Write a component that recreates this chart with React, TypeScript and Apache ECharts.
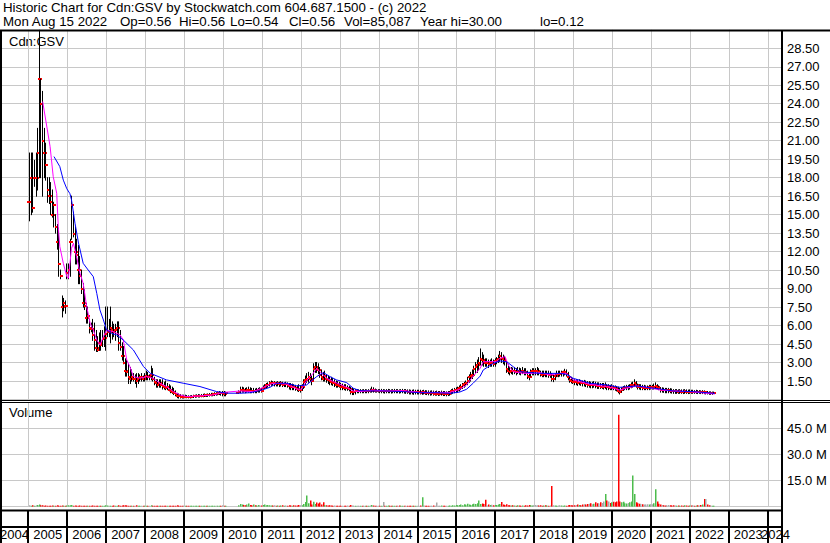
import React, { useEffect, useRef } from 'react';
import * as echarts from 'echarts';

const FONT = '"Liberation Sans", Arial, Helvetica, sans-serif';

const HEADER_1 = 'Historic Chart for Cdn:GSV by Stockwatch.com 604.687.1500 - (c) 2022';
const HEADER_2 = ['Mon Aug 15 2022', 'Op=0.56', 'Hi=0.56', 'Lo=0.54', 'Cl=0.56', 'Vol=85,087', 'Year hi=30.00', 'lo=0.12'];
const HEADER_2_X = [3, 120, 179, 230, 289, 344, 420, 540];
const SYMBOL = 'Cdn:GSV';
const VOLUME_TITLE = 'Volume';

const YEARS = [2004, 2005, 2006, 2007, 2008, 2009, 2010, 2011, 2012, 2013, 2014, 2015, 2016, 2017, 2018, 2019, 2020, 2021, 2022, 2023, 2024];
const X_MIN = 2004.3243;
const X_MAX = 2024.365;
const PRICE_MAX = 30;
const PRICE_STEP = 1.5;
const VOL_MAX = 60;
const VOL_STEP = 15;

// semi-monthly periods starting Jan 2005
const FIRST_YEAR = 2005;
const PER_YEAR = 24;
const _ = null;

const HIGH = [
  20,20,20,19.4,20,22,30,26,25,22,20.8,18,18,17.6,17,16,15,14.2,13.9,10.5,8.4,8.2,8.0,11,
  11,13,16.5,15.2,14,13,12.5,11.6,10.5,9.4,8.9,7.8,7.5,6.5,6.2,6.5,6.2,5.6,5.1,5.4,5.6,5.6,5.9,7.5,
  7.5,6.5,7.5,6.3,6.1,6.1,6.3,6.3,5.6,4.6,4.3,3.3,3.2,2.9,2.6,2.4,2.1,2.0,2.1,2.1,2.0,2.1,1.9,2.1,
  2.3,2.2,2.0,2.7,2.5,1.8,1.6,1.6,1.6,1.6,1.6,1.4,1.5,1.3,1.2,1.1,1.0,0.9,0.7,0.5,0.45,0.4,0.35,0.35,
  0.35,0.32,0.3,0.3,0.32,0.35,0.35,0.38,0.4,0.38,0.4,0.42,0.45,0.42,0.45,0.48,0.5,0.5,0.55,0.55,0.6,0.65,0.6,0.65,
  0.65,0.6,_,_,_,_,_,_,_,0.7,1.0,1.0,0.95,0.9,0.95,1.0,0.95,0.9,0.9,0.85,0.9,0.9,0.95,0.9,
  1.1,1.2,1.3,1.35,1.45,1.5,1.45,1.45,1.4,1.45,1.4,1.45,1.4,1.35,1.4,1.35,1.3,1.3,1.25,1.2,1.15,1.1,1.2,1.1,
  1.2,1.6,1.9,2.1,2.2,2.1,1.9,2.9,3.0,3.0,2.9,2.6,2.4,2.2,2.3,2.0,1.9,1.8,1.8,1.7,1.6,1.5,1.45,1.4,
  1.3,1.25,1.2,1.2,1.1,1.05,1.0,0.9,0.85,0.8,0.8,0.78,0.8,0.78,0.8,0.8,0.78,0.8,0.85,1.0,0.95,0.85,0.8,0.8,
  0.8,0.82,0.8,0.78,0.8,0.82,0.8,0.78,0.8,0.82,0.8,0.8,0.78,0.8,0.82,0.8,0.8,0.78,0.78,0.75,0.75,0.78,0.75,0.75,
  0.75,0.75,0.72,0.75,0.72,0.7,0.7,0.68,0.7,0.68,0.65,0.68,0.65,0.65,0.68,0.65,0.65,0.62,0.65,0.65,0.8,0.85,0.9,0.95,
  1.0,1.1,1.2,1.3,1.4,1.5,1.8,2.0,2.2,2.4,2.7,3.0,3.2,3.4,4.1,3.8,3.6,3.3,3.3,3.2,3.2,3.3,3.2,3.3,
  3.4,3.6,3.9,3.8,3.6,3.5,3.0,2.8,2.6,2.6,2.55,2.6,2.5,2.6,2.55,2.5,2.6,2.5,2.5,2.3,2.2,2.4,2.5,2.5,
  2.5,2.6,2.5,2.3,2.3,2.3,2.3,2.3,2.3,2.25,2.1,2.0,2.1,2.3,2.3,2.3,2.3,2.3,2.45,2.4,2.2,1.9,1.8,1.7,
  1.6,1.6,1.55,1.6,1.55,1.5,1.55,1.5,1.45,1.45,1.4,1.4,1.45,1.4,1.35,1.35,1.3,1.3,1.3,1.35,1.2,1.2,1.15,1.2,
  1.1,1.1,1.05,1.0,0.9,0.95,1.05,1.1,1.15,1.15,1.2,1.35,1.4,1.6,1.45,1.25,1.2,1.2,1.15,1.15,1.1,1.1,1.15,1.15,
  1.15,1.25,1.35,1.2,1.1,0.95,0.95,0.92,0.9,0.9,0.9,0.88,0.85,0.8,0.8,0.8,0.78,0.8,0.78,0.78,0.8,0.78,0.76,0.78,
  0.75,0.75,0.72,0.75,0.72,0.72,0.7,0.72,0.7,0.65,0.65,0.62,0.62,0.6,0.6,
];

const LOW = [
  14.5,15,15.2,17.3,16.5,17,18,18,16.5,18,17.8,16,15.9,15,14.8,14,13.5,12.2,10,9.8,6.7,7.2,7.0,9.8,
  9.8,10,13,13.2,11,11,9.4,9.4,8.6,7.5,7.3,6.2,6.2,5.4,5.5,4.8,4.0,3.9,3.9,4.0,4.0,4.3,4.3,4.0,
  5.1,5.1,4.6,4.9,5.1,4.8,5.1,4.0,4.0,3.2,2.9,1.9,1.9,1.3,1.3,1.5,1.5,1.3,1.0,1.3,1.5,1.5,1.5,1.5,
  1.6,1.6,1.6,1.6,1.5,1.2,1.0,1.0,1.0,1.0,0.85,0.85,0.8,0.8,0.7,0.55,0.5,0.4,0.3,0.15,0.12,0.12,0.12,0.12,
  0.15,0.14,0.13,0.12,0.15,0.16,0.18,0.2,0.2,0.2,0.22,0.22,0.25,0.25,0.25,0.28,0.3,0.3,0.32,0.35,0.38,0.4,0.35,0.3,
  0.3,0.3,_,_,_,_,_,_,_,0.5,0.55,0.6,0.6,0.55,0.6,0.6,0.55,0.55,0.55,0.55,0.55,0.6,0.6,0.6,
  0.85,0.9,0.95,1.0,1.1,1.15,1.15,1.1,1.1,1.1,1.05,1.1,1.05,1.05,1.05,1.0,0.85,0.8,0.8,0.8,0.75,0.7,0.65,0.6,
  0.75,0.9,1.2,1.4,1.4,1.5,1.2,1.6,2.2,2.2,2.1,1.8,1.6,1.5,1.5,1.4,1.3,1.2,1.2,1.15,1.05,1.0,1.0,1.0,
  0.8,0.8,0.8,0.75,0.75,0.7,0.45,0.4,0.4,0.45,0.55,0.55,0.55,0.55,0.55,0.55,0.55,0.55,0.6,0.6,0.6,0.6,0.6,0.6,
  0.55,0.55,0.55,0.52,0.55,0.55,0.55,0.52,0.55,0.55,0.55,0.55,0.52,0.55,0.55,0.52,0.5,0.5,0.45,0.45,0.45,0.42,0.45,0.45,
  0.45,0.45,0.42,0.45,0.42,0.4,0.38,0.35,0.38,0.35,0.35,0.35,0.32,0.35,0.35,0.32,0.32,0.3,0.32,0.35,0.45,0.5,0.55,0.6,
  0.6,0.7,0.8,0.9,1.0,1.1,1.2,1.4,1.5,1.7,1.9,2.1,2.2,2.4,2.8,2.8,2.7,2.7,2.7,2.6,2.7,2.7,2.7,2.7,
  2.9,3.0,3.1,3.0,2.9,2.8,2.2,2.1,2.0,2.1,2.05,2.1,2.0,2.1,2.05,2.0,2.1,2.0,2.0,1.7,1.6,1.9,2.0,2.0,
  2.0,2.0,2.0,1.9,1.85,1.85,1.85,1.85,1.8,1.8,1.5,1.45,1.6,1.85,1.85,1.9,1.9,1.9,2.0,1.9,1.6,1.4,1.35,1.3,
  1.2,1.2,1.15,1.2,1.15,1.1,1.1,1.05,1.0,1.0,0.95,0.95,1.0,0.95,0.9,0.9,0.9,0.9,0.85,0.9,0.8,0.8,0.8,0.8,
  0.8,0.75,0.7,0.55,0.45,0.6,0.75,0.8,0.8,0.8,0.85,0.95,1.0,1.05,1.0,0.85,0.85,0.8,0.8,0.8,0.8,0.8,0.8,0.85,
  0.85,0.85,0.9,0.85,0.8,0.6,0.6,0.58,0.55,0.55,0.55,0.55,0.52,0.5,0.5,0.5,0.5,0.5,0.5,0.48,0.5,0.5,0.48,0.5,
  0.5,0.5,0.5,0.5,0.48,0.5,0.48,0.48,0.47,0.45,0.45,0.42,0.42,0.42,0.5,
];

const CLOSE = [
  16,18,15.5,18,18,20,26,24,21,20,19,17,16.5,16,15,15.8,14,12.8,11,10,7.5,7.8,7.6,10.3,
  10.5,12.8,15.8,13.4,12,11.7,10.5,10,9,7.8,7.6,6.6,6.8,5.8,5.7,5.2,4.8,4.2,4.0,4.6,4.4,4.9,5.0,5.3,
  5.5,5.5,5.8,5.6,5.5,5.6,5.8,4.6,4.3,3.5,3.0,2.3,2.2,1.8,1.7,1.8,1.7,1.7,1.5,1.7,1.8,1.8,1.7,1.8,
  1.9,1.8,1.8,2.0,1.7,1.4,1.3,1.2,1.3,1.2,1.1,1.0,0.9,1.0,0.8,0.7,0.6,0.5,0.45,0.3,0.25,0.22,0.2,0.2,
  0.22,0.2,0.18,0.2,0.22,0.25,0.26,0.28,0.3,0.28,0.3,0.32,0.35,0.33,0.35,0.38,0.4,0.42,0.45,0.45,0.5,0.55,0.5,0.5,
  0.45,0.5,_,_,_,_,_,_,_,0.6,0.75,0.8,0.75,0.65,0.75,0.8,0.7,0.65,0.7,0.65,0.7,0.75,0.75,0.7,
  0.95,1.05,1.15,1.2,1.3,1.35,1.3,1.3,1.25,1.3,1.25,1.3,1.2,1.25,1.25,1.2,1.1,1.0,1.05,1.0,0.9,0.85,0.8,0.8,
  1.0,1.4,1.6,1.7,1.8,1.7,1.5,2.5,2.6,2.5,2.4,2.0,1.8,1.7,1.9,1.7,1.6,1.5,1.4,1.3,1.3,1.2,1.15,1.1,
  1.0,1.0,0.95,0.9,0.9,0.85,0.6,0.6,0.6,0.65,0.65,0.65,0.7,0.65,0.65,0.7,0.65,0.7,0.7,0.8,0.75,0.7,0.7,0.7,
  0.68,0.7,0.7,0.65,0.68,0.7,0.68,0.65,0.68,0.7,0.68,0.68,0.65,0.68,0.7,0.65,0.65,0.62,0.6,0.58,0.6,0.58,0.6,0.6,
  0.6,0.55,0.58,0.58,0.55,0.52,0.5,0.5,0.5,0.48,0.48,0.48,0.48,0.48,0.5,0.48,0.45,0.45,0.48,0.5,0.65,0.7,0.75,0.8,
  0.85,0.95,1.05,1.15,1.25,1.35,1.5,1.8,1.9,2.0,2.5,2.6,2.8,3.0,3.3,3.2,3.1,3.0,3.0,2.9,3.0,3.0,2.9,3.1,
  3.2,3.3,3.5,3.4,3.3,3.1,2.5,2.3,2.2,2.35,2.3,2.35,2.25,2.35,2.3,2.25,2.35,2.25,2.2,1.9,1.8,2.2,2.3,2.3,
  2.3,2.3,2.2,2.1,2.0,2.1,2.05,2.1,2.0,2.0,1.7,1.7,1.9,2.1,2.1,2.1,2.15,2.2,2.25,2.1,1.8,1.6,1.5,1.45,
  1.4,1.4,1.35,1.4,1.35,1.3,1.3,1.25,1.2,1.2,1.15,1.15,1.2,1.15,1.1,1.1,1.05,1.05,1.05,1.1,1.0,1.0,0.95,1.0,
  0.95,0.9,0.85,0.7,0.6,0.8,0.9,0.95,1.0,1.0,1.05,1.15,1.2,1.3,1.2,1.05,1.0,1.0,0.95,0.95,0.95,0.95,1.0,1.0,
  1.0,1.05,1.1,1.0,0.95,0.8,0.8,0.78,0.75,0.75,0.75,0.72,0.7,0.65,0.65,0.66,0.64,0.65,0.64,0.62,0.65,0.64,0.62,0.64,
  0.62,0.62,0.6,0.62,0.6,0.6,0.58,0.6,0.58,0.58,0.55,0.52,0.52,0.54,0.56,
];

// volume in millions (tallest daily bar seen in each half-month)
const VOLUME = [
  0.8,0.6,0.9,0.6,0.8,1.0,1.2,0.9,0.8,0.6,0.7,0.5,0.6,0.5,0.7,0.5,0.6,0.8,0.6,0.5,0.7,0.5,0.5,0.7,
  0.8,0.9,1.0,0.6,0.7,0.5,0.6,0.7,0.5,0.6,0.5,0.5,0.6,0.5,0.5,0.7,0.6,0.5,0.5,0.6,0.5,0.5,0.6,0.8,
  0.7,0.5,0.6,0.5,0.7,0.5,0.5,0.8,0.6,0.7,0.8,0.9,0.7,0.6,0.6,0.5,0.5,0.6,0.8,0.6,0.5,0.5,0.5,0.6,
  0.6,0.5,0.6,0.8,0.6,0.6,0.5,0.6,0.5,0.5,0.6,0.5,0.6,0.5,0.6,0.6,0.5,0.5,0.6,0.8,0.5,0.5,0.4,0.4,
  0.4,0.4,0.4,0.4,0.4,0.4,0.4,0.4,0.4,0.4,0.4,0.4,0.4,0.4,0.4,0.4,0.4,0.4,0.4,0.4,0.4,0.5,0.6,0.8,
  0.5,0.4,0,0,0,0,0,0,0,0.8,1.5,1.2,1.0,0.8,1.2,1.8,1.0,0.8,1.2,0.8,0.7,1.0,0.8,0.7,
  1.0,1.2,0.8,1.0,0.8,0.7,0.7,0.8,0.6,0.7,0.6,0.7,0.8,0.6,0.7,0.6,0.8,0.7,0.6,0.8,0.7,0.7,1.0,0.8,
  0.8,1.5,2.7,6.4,2.0,3.6,1.2,2.8,1.5,2.4,1.8,2.4,1.3,2.5,1.0,0.8,0.7,0.8,0.7,0.6,0.7,0.6,0.5,0.6,
  0.6,0.5,0.6,0.5,0.7,0.6,1.0,0.7,0.6,0.5,0.6,0.5,0.5,0.6,0.5,0.5,0.6,0.5,0.7,1.0,0.7,0.6,0.5,0.5,
  0.5,0.6,2.7,0.6,0.5,0.7,0.6,0.5,0.5,0.6,0.5,0.5,0.7,0.6,0.5,0.5,0.6,0.5,0.5,0.6,0.5,0.5,0.5,0.6,
  0.6,0.7,5.5,0.8,0.6,0.5,0.6,0.5,0.5,0.7,0.6,2.4,0.6,0.5,0.7,0.6,0.5,0.5,0.6,0.7,0.6,0.8,0.7,1.0,
  0.8,1.0,1.2,0.9,1.4,1.1,1.7,1.2,1.0,1.4,1.7,1.5,2.0,3.6,1.5,1.8,1.5,4.0,1.0,1.2,1.0,1.1,0.9,1.0,
  1.0,1.2,1.5,2.7,1.2,1.0,1.4,0.9,0.8,0.7,0.8,0.7,0.6,0.8,0.7,0.6,0.7,0.6,0.8,0.7,1.0,0.8,0.7,0.8,
  1.0,0.8,0.7,0.8,0.6,0.7,0.8,0.7,0.6,0.7,12,0.8,0.7,0.6,0.7,0.8,0.7,0.6,0.7,0.6,0.8,1.0,0.8,0.7,
  0.8,1.0,1.2,1.0,0.9,1.2,1.4,1.2,1.5,1.7,2.0,1.4,1.7,2.5,2.0,1.8,2.5,2.2,3.0,7.3,3.6,3.0,2.2,2.5,
  2.8,2.5,3.0,53,3.0,2.5,2.8,2.0,1.8,2.2,2.5,3.0,18,7.3,2.5,2.0,1.7,1.5,1.4,1.2,1.3,1.4,1.2,1.4,
  1.4,2.0,10,3.0,1.7,1.2,1.0,0.8,0.7,0.8,1.0,0.8,0.7,0.8,0.7,0.6,0.7,0.6,0.7,0.6,0.8,0.7,0.6,0.7,
  0.7,0.8,0.6,0.7,0.8,0.7,1.0,1.2,4.5,4.5,1.2,0.8,0.7,0.6,0.6,
];

// moving averages: [year, price]
const MA_SHORT = [
  [2005.37,24.17],[2005.56,20.52],[2005.64,18.09],[2005.73,16.73],[2005.77,14.03],[2005.81,12.41],[2005.90,11.05],
  [2005.99,9.97],[2006.03,9.84],[2006.07,11.05],[2006.11,12.27],[2006.16,12.68],[2006.24,11.6],[2006.33,10.24],
  [2006.41,9.43],[2006.5,7.54],[2006.59,6.18],[2006.67,5.64],[2006.76,4.83],[2006.84,4.43],[2006.93,5.10],
  [2007.01,5.64],[2007.18,5.51],[2007.36,5.24],[2007.44,4.83],[2007.53,3.21],[2007.61,2.67],[2007.70,1.86],
  [2007.87,1.73],[2008.04,1.86],[2008.21,1.73],[2008.38,1.32],[2008.55,1.05],[2008.73,0.64],[2008.90,0.37],
  [2009.07,0.24],[2009.41,0.29],[2009.75,0.37],[2009.93,0.51],[2010.10,0.60],[2010.44,0.69],[2010.78,0.64],
  [2011.04,0.99],[2011.29,1.32],[2011.64,1.26],[2011.90,0.85],[2012.02,0.83],[2012.15,1.53],[2012.32,2.12],
  [2012.41,2.53],[2012.49,2.26],[2012.67,1.72],[2012.84,1.45],[2013.01,1.23],[2013.18,0.99],[2013.35,0.69],
  [2013.52,0.64],[2013.86,0.77],[2014.21,0.69],[2014.64,0.72],[2015.06,0.58],[2015.49,0.58],[2015.84,0.58],
  [2016.09,0.83],[2016.26,1.18],[2016.43,1.9],[2016.61,2.53],[2016.69,3.07],[2016.86,3.07],[2017.03,3.07],
  [2017.12,3.34],[2017.25,3.48],[2017.33,2.80],[2017.46,2.26],[2017.72,2.12],[2017.98,2.12],[2018.15,2.18],
  [2018.40,1.99],[2018.66,2.12],[2018.83,2.12],[2019.00,1.59],[2019.43,1.23],[2019.86,1.05],[2020.20,0.77],
  [2020.37,0.91],[2020.63,1.10],[2020.89,0.99],[2021.23,0.77],[2021.57,0.69],[2022.00,0.64],[2022.43,0.50],
  [2022.64,0.45],
];

const MA_LONG = [
  [2005.66,19.71],[2005.81,18.9],[2005.90,17.8],[2005.99,17.1],[2006.07,16.7],[2006.11,16.2],[2006.20,14.3],
  [2006.29,12.7],[2006.41,11.05],[2006.54,10.5],[2006.67,9.97],[2006.76,8.6],[2006.84,7.27],[2006.93,6.45],
  [2007.01,5.64],[2007.14,5.37],[2007.27,5.24],[2007.44,4.83],[2007.70,4.02],[2007.96,2.67],[2008.13,2.13],
  [2008.55,1.59],[2008.98,1.32],[2009.41,1.05],[2009.84,0.64],[2010.10,0.51],[2010.44,0.51],[2010.70,0.55],
  [2010.95,0.72],[2011.21,0.99],[2011.38,1.32],[2011.64,1.32],[2011.90,1.10],[2012.15,1.18],[2012.41,1.86],
  [2012.58,2.18],[2012.75,1.86],[2012.92,1.59],[2013.18,1.37],[2013.35,0.91],[2013.52,0.72],[2013.78,0.69],
  [2014.21,0.69],[2014.64,0.64],[2015.06,0.55],[2015.49,0.55],[2015.84,0.50],[2016.09,0.61],[2016.26,0.83],
  [2016.43,1.32],[2016.61,1.9],[2016.69,2.40],[2016.95,2.94],[2017.12,3.13],[2017.29,3.07],[2017.46,2.66],
  [2017.63,2.26],[2018.15,2.12],[2018.66,2.12],[2018.83,2.04],[2019.00,1.72],[2019.43,1.32],[2019.86,1.18],
  [2020.20,0.99],[2020.63,1.10],[2020.89,0.99],[2021.23,0.85],[2021.57,0.69],[2022.09,0.64],[2022.64,0.50],
];

const xOf = (i: number) => FIRST_YEAR + (i + 0.5) / PER_YEAR;

const GRID_GRAY = '#c8c8c8';
const UP_GREEN = '#4cbc4c';
const DOWN_RED = '#ff0000';
const FLAT_GRAY = '#a8a8a8';

export default function App() {
  const ref = useRef<HTMLDivElement>(null);

  useEffect(() => {
    if (!ref.current) return;
    const chart = echarts.init(ref.current, undefined, { renderer: 'svg' });

    const priceData: number[][] = [];
    let prevClose: number | null = null;
    CLOSE.forEach((c, i) => {
      if (c == null) return;
      const open = prevClose == null ? c : prevClose;
      priceData.push([xOf(i), LOW[i] as number, HIGH[i] as number, c, open]);
      prevClose = c;
    });

    const volData: number[][] = [];
    let pc: number | null = null;
    VOLUME.forEach((v, i) => {
      const c = CLOSE[i];
      if (c == null || !v) return;
      const dir = pc == null ? 0 : c > pc ? 1 : c < pc ? -1 : 0;
      volData.push([xOf(i), v, dir]);
      pc = c;
    });

    const yearLines = YEARS.filter((y) => y > X_MIN && y < X_MAX).map((y) => [y, 0]);

    const gridLineItem = (params: any, api: any) => {
      const cs = params.coordSys;
      const p = api.coord([api.value(0), 0]);
      const x = Math.round(p[0]) + 0.5;
      return {
        type: 'line',
        shape: { x1: x, y1: cs.y, x2: x, y2: cs.y + cs.height },
        style: { stroke: GRID_GRAY, lineWidth: 1 },
      };
    };

    const xAxisBase = {
      type: 'value',
      min: X_MIN,
      max: X_MAX,
      show: false,
      splitLine: { show: false },
    };

    const textStyle = (text: string, size = 13) => ({ text, fill: '#000', font: `${size}px ${FONT}`, verticalAlign: 'middle' });

    const option: any = {
      animation: false,
      backgroundColor: '#ffffff',
      grid: [
        { left: 2, right: 48, top: 29.8, height: 369.7 },
        { left: 2, right: 48, top: 402.7, height: 104 },
        { left: 2, right: 48, top: 510, height: 33 },
      ],
      xAxis: [
        { ...xAxisBase, gridIndex: 0 },
        { ...xAxisBase, gridIndex: 1 },
        { ...xAxisBase, gridIndex: 2 },
      ],
      yAxis: [
        {
          gridIndex: 0,
          type: 'value',
          position: 'right',
          min: 0,
          max: PRICE_MAX,
          interval: PRICE_STEP,
          axisLine: { show: false },
          axisTick: { show: false },
          splitLine: { show: true, lineStyle: { color: GRID_GRAY, width: 1 } },
          axisLabel: {
            margin: 5,
            color: '#000',
            fontFamily: FONT,
            fontSize: 13,
            formatter: (v: number) => (v <= 0 || v >= PRICE_MAX ? '' : v.toFixed(2)),
          },
        },
        {
          gridIndex: 1,
          type: 'value',
          position: 'right',
          min: 0,
          max: VOL_MAX,
          interval: VOL_STEP,
          axisLine: { show: false },
          axisTick: { show: false },
          splitLine: { show: true, lineStyle: { color: GRID_GRAY, width: 1 } },
          axisLabel: {
            margin: 5,
            color: '#000',
            fontFamily: FONT,
            fontSize: 13,
            formatter: (v: number) => (v <= 0 || v >= VOL_MAX ? '' : v.toFixed(1) + ' M'),
          },
        },
        { gridIndex: 2, type: 'value', min: 0, max: 1, show: false, splitLine: { show: false } },
      ],
      series: [
        {
          type: 'custom',
          xAxisIndex: 0,
          yAxisIndex: 0,
          z: 1,
          silent: true,
          renderItem: gridLineItem,
          data: yearLines,
        },
        {
          type: 'custom',
          xAxisIndex: 1,
          yAxisIndex: 1,
          z: 1,
          silent: true,
          renderItem: gridLineItem,
          data: yearLines,
        },
        {
          type: 'custom',
          name: 'price',
          xAxisIndex: 0,
          yAxisIndex: 0,
          z: 3,
          clip: true,
          silent: true,
          renderItem: (params: any, api: any) => {
            const x = api.value(0);
            const lo = api.coord([x, api.value(1)]);
            const hi = api.coord([x, api.value(2)]);
            const cl = api.coord([x, api.value(3)]);
            const op = api.coord([x, api.value(4)]);
            const px = Math.round(lo[0]) + 0.5;
            return {
              type: 'group',
              children: [
                { type: 'line', shape: { x1: px, y1: lo[1] + 0.5, x2: px, y2: hi[1] - 0.5 }, style: { stroke: '#000', lineWidth: 1 } },
                { type: 'rect', shape: { x: px - 2.5, y: Math.round(op[1]) - 1, width: 2, height: 2 }, style: { fill: DOWN_RED } },
                { type: 'rect', shape: { x: px + 0.5, y: Math.round(cl[1]) - 1, width: 2, height: 2 }, style: { fill: DOWN_RED } },
              ],
            };
          },
          data: priceData,
        },
        {
          type: 'line',
          xAxisIndex: 0,
          yAxisIndex: 0,
          z: 4,
          symbol: 'none',
          silent: true,
          lineStyle: { color: '#ff00ff', width: 1 },
          data: MA_SHORT,
        },
        {
          type: 'line',
          xAxisIndex: 0,
          yAxisIndex: 0,
          z: 5,
          symbol: 'none',
          silent: true,
          lineStyle: { color: '#0000ff', width: 1 },
          data: MA_LONG,
        },
        {
          type: 'custom',
          name: 'volume',
          xAxisIndex: 1,
          yAxisIndex: 1,
          z: 3,
          clip: true,
          silent: true,
          renderItem: (params: any, api: any) => {
            const x = api.value(0);
            const base = api.coord([x, 0]);
            const top = api.coord([x, api.value(1)]);
            const dir = api.value(2);
            const h = Math.max(1, base[1] - top[1]);
            return {
              type: 'rect',
              shape: { x: Math.round(base[0]), y: base[1] - h, width: 1.5, height: h },
              style: { fill: dir > 0 ? UP_GREEN : dir < 0 ? DOWN_RED : FLAT_GRAY },
            };
          },
          data: volData,
        },
        {
          type: 'custom',
          name: 'years',
          xAxisIndex: 2,
          yAxisIndex: 2,
          z: 3,
          silent: true,
          renderItem: (params: any, api: any) => {
            const cs = params.coordSys;
            const yr = api.value(0);
            const edge = api.coord([yr, 0]);
            const mid = api.coord([yr + 0.5, 0.25]);
            const w = 29;
            const cx = Math.min(Math.max(mid[0], w / 2), 790 - w / 2);
            const children: any[] = [
              {
                type: 'text',
                style: {
                  text: String(yr),
                  x: cx,
                  y: mid[1],
                  align: 'center',
                  verticalAlign: 'middle',
                  fill: '#000',
                  font: `13px ${FONT}`,
                },
              },
            ];
            if (yr > X_MIN) {
              const ex = Math.round(edge[0]);
              children.push({
                type: 'line',
                shape: { x1: ex, y1: cs.y, x2: ex, y2: cs.y + cs.height },
                style: { stroke: '#000', lineWidth: 2 },
              });
            }
            return { type: 'group', children };
          },
          data: YEARS.map((y) => [y, 0]),
        },
      ],
      graphic: [
        { type: 'text', z: 1, x: 3, y: 7.5, style: textStyle(HEADER_1, 13.3) },
        ...HEADER_2.map((t, i) => ({ type: 'text', z: 1, x: HEADER_2_X[i], y: 21.5, style: textStyle(t, 13.3) })),
        { type: 'text', z: 1, x: 9, y: 41.5, style: textStyle(SYMBOL) },
        { type: 'text', z: 1, x: 9, y: 412.5, style: textStyle(VOLUME_TITLE) },
        { type: 'line', z: 100, shape: { x1: 0, y1: 30.5, x2: 830, y2: 30.5 }, style: { stroke: '#000', lineWidth: 2 } },
        { type: 'line', z: 100, shape: { x1: 1, y1: 30, x2: 1, y2: 543 }, style: { stroke: '#000', lineWidth: 2 } },
        { type: 'line', z: 100, shape: { x1: 782, y1: 30, x2: 782, y2: 543 }, style: { stroke: '#000', lineWidth: 2 } },
        { type: 'line', z: 100, shape: { x1: 0, y1: 400.5, x2: 830, y2: 400.5 }, style: { stroke: '#000', lineWidth: 1 } },
        { type: 'line', z: 100, shape: { x1: 0, y1: 402.5, x2: 830, y2: 402.5 }, style: { stroke: '#000', lineWidth: 1 } },
        { type: 'line', z: 100, shape: { x1: 0, y1: 510.5, x2: 782, y2: 510.5 }, style: { stroke: '#000', lineWidth: 2 } },
        { type: 'line', z: 100, shape: { x1: 0, y1: 527, x2: 782, y2: 527 }, style: { stroke: '#000', lineWidth: 2 } },
      ],
    };

    chart.setOption(option);
    return () => chart.dispose();
  }, []);

  return (
    <div
      ref={ref}
      style={{ position: 'absolute', left: 0, top: 0, width: 830, height: 543, background: '#fff' }}
    />
  );
}
